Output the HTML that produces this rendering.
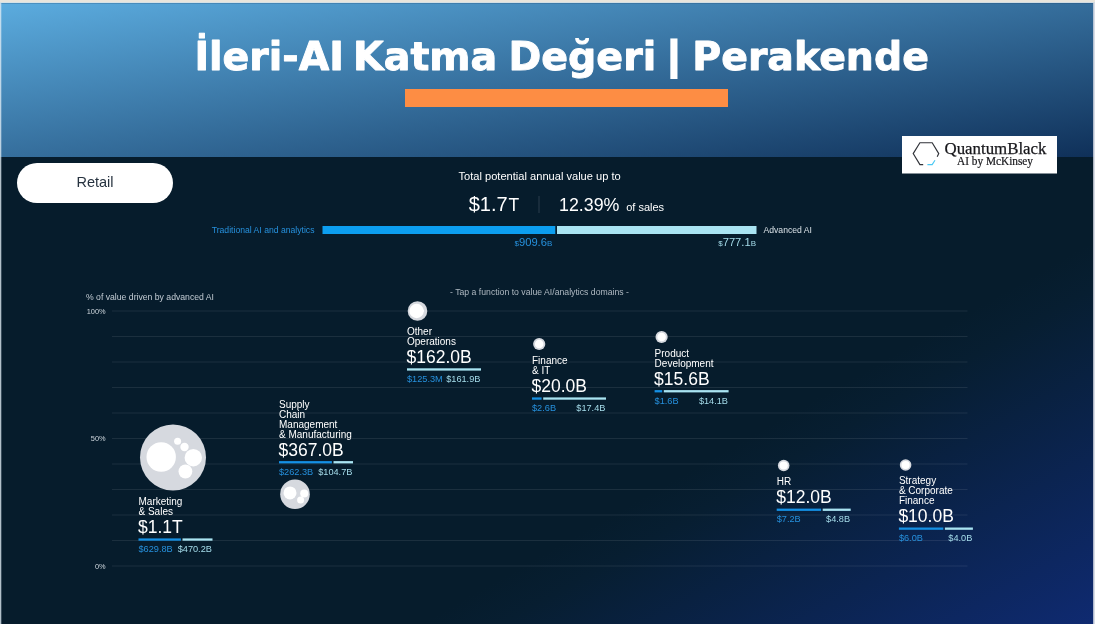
<!DOCTYPE html>
<html lang="tr"><head><meta charset="utf-8"><title>İleri-AI Katma Değeri | Perakende</title>
<style>
html,body{margin:0;padding:0;background:#061c2c;}
body{width:1095px;height:624px;overflow:hidden;position:relative;font-family:"Liberation Sans", Arial, sans-serif;}
svg{position:absolute;left:0;top:0;display:block}
text{font-family:"Liberation Sans", Arial, sans-serif;white-space:pre}
.ttl{font-family:'DejaVu Sans', 'Liberation Sans', sans-serif;font-weight:bold;font-size:38.7px;fill:#fff;stroke:#fff;stroke-width:0.9px;stroke-linejoin:round}
.lbl{font-size:10px;fill:#fff}
.val{font-size:17.5px;fill:#fff}
.sv{font-size:9.2px}
.ax{font-size:7.4px;fill:#cdd5dc}
</style></head><body>
<svg width="1095" height="624" viewBox="0 0 1095 624">
<defs>
<linearGradient id="hdr" x1="0" y1="0" x2="1" y2="1"><stop offset="0" stop-color="#5cadE0"/><stop offset="1" stop-color="#0f3059"/></linearGradient>
<linearGradient id="glow" gradientUnits="userSpaceOnUse" x1="930" y1="334" x2="1095" y2="624"><stop offset="0" stop-color="#061c2c"/><stop offset="0.12" stop-color="#071e31"/><stop offset="1" stop-color="#0f2a71"/></linearGradient>
</defs>
<rect x="0" y="0" width="1095" height="624" fill="#061c2c"/>
<rect x="0" y="157" width="1095" height="467" fill="url(#glow)"/>
<rect x="0" y="0" width="1095" height="157" fill="url(#hdr)"/>
<rect x="0" y="2.8" width="1095" height="0.900" fill="#1d456e" opacity="0.35"/>
<rect x="0" y="0" width="1095" height="2.900" fill="#e2e8ea"/>
<rect x="0" y="0" width="1095" height="2.100" fill="#e9e5dc"/>
<rect x="0" y="3" width="1.3" height="621" fill="#ddeaf3" opacity="0.8"/>
<rect x="1093.200" y="3" width="1.8" height="621" fill="#d9dde6"/>
<text x="194.4" y="70.3" class="ttl" textLength="149.5" lengthAdjust="spacingAndGlyphs">İleri-AI</text>
<text x="353.1" y="70.3" class="ttl" textLength="144.1" lengthAdjust="spacingAndGlyphs">Katma</text>
<text x="508.4" y="70.3" class="ttl" textLength="147.8" lengthAdjust="spacingAndGlyphs">Değeri</text>
<text x="692.3" y="70.3" class="ttl" textLength="236.6" lengthAdjust="spacingAndGlyphs">Perakende</text>
<text x="674" y="69.3" class="ttl" text-anchor="middle" style="font-size:36.500px;stroke-width:3px;stroke-linejoin:miter">|</text>
<rect x="405" y="89" width="323" height="18" fill="#fd8d44"/>
<rect x="902" y="136" width="155" height="37.5" fill="#fff"/>
<path d="M923.200,164.600 L919.900,164.600 L913.200,153.600 L919.900,142.750 L932.200,142.750 L938.750,153.600 L937.200,156.8" fill="none" stroke="#303238" stroke-width="1.150" stroke-linejoin="miter"/>
<path d="M927.400,164.600 L932.200,164.600 L935,160.3" fill="none" stroke="#4cc9f3" stroke-width="1.150"/>
<text x="944.5" y="153.8" style="font-family:'Liberation Serif', serif;font-size:16.500px;fill:#17171b;stroke:#17171b;stroke-width:0.250px" textLength="102" lengthAdjust="spacingAndGlyphs">QuantumBlack</text>
<text x="957" y="165.3" style="font-family:'Liberation Serif', serif;font-size:11.500px;fill:#17171b;stroke:#17171b;stroke-width:0.200px" textLength="76" lengthAdjust="spacingAndGlyphs">AI by McKinsey</text>
<rect x="17" y="163" width="156" height="40" rx="20" ry="20" fill="#fff"/>
<text x="95" y="187" text-anchor="middle" style="font-size:14.500px;fill:#26323f">Retail</text>
<text x="458.5" y="179.700" style="font-size:11.100px;fill:#fff">Total potential annual value up to</text>
<text x="468.700" y="211" style="font-size:19.500px;fill:#fff" textLength="39" lengthAdjust="spacingAndGlyphs">$1.7</text>
<text x="508.600" y="211" style="font-size:17.500px;fill:#fff">T</text>
<rect x="538.5" y="196" width="1" height="17" fill="#2a3c4c"/>
<text x="559" y="211" style="font-size:18.500px;fill:#fff" textLength="60.400" lengthAdjust="spacingAndGlyphs">12.39%</text>
<text x="626.200" y="211" style="font-size:11px;fill:#fff">of sales</text>
<text x="314.5" y="233" text-anchor="end" style="font-size:8.650px;fill:#2690dc">Traditional AI and analytics</text>
<rect x="322.5" y="226" width="232.8" height="8" fill="#0c9ef0"/>
<rect x="557" y="226" width="199.5" height="8" fill="#a9e4f2"/>
<text x="763.5" y="233" style="font-size:8.650px;fill:#d8e0e6">Advanced AI</text>
<text x="552.3" y="245.8" text-anchor="end" style="font-size:11.200px;fill:#2690dc"><tspan style="font-size:8px">$</tspan>909.6<tspan style="font-size:8px">B</tspan></text>
<text x="756" y="245.8" text-anchor="end" style="font-size:11.200px;fill:#a5dcea"><tspan style="font-size:8px">$</tspan>777.1<tspan style="font-size:8px">B</tspan></text>
<text x="86" y="299.5" style="font-size:8.650px;fill:#c3ccd4" textLength="128" lengthAdjust="spacingAndGlyphs">% of value driven by advanced AI</text>
<text x="450" y="294.5" style="font-size:8.650px;fill:#aeb8c1" textLength="179" lengthAdjust="spacingAndGlyphs">- Tap a function to value AI/analytics domains -</text>
<rect x="112" y="310.50" width="855.5" height="1" fill="#fff" opacity="0.085"/>
<rect x="112" y="336.00" width="855.5" height="1" fill="#fff" opacity="0.085"/>
<rect x="112" y="361.50" width="855.5" height="1" fill="#fff" opacity="0.085"/>
<rect x="112" y="387.00" width="855.5" height="1" fill="#fff" opacity="0.085"/>
<rect x="112" y="412.50" width="855.5" height="1" fill="#fff" opacity="0.085"/>
<rect x="112" y="438.00" width="855.5" height="1" fill="#fff" opacity="0.085"/>
<rect x="112" y="463.50" width="855.5" height="1" fill="#fff" opacity="0.085"/>
<rect x="112" y="489.00" width="855.5" height="1" fill="#fff" opacity="0.085"/>
<rect x="112" y="514.50" width="855.5" height="1" fill="#fff" opacity="0.085"/>
<rect x="112" y="540.00" width="855.5" height="1" fill="#fff" opacity="0.085"/>
<rect x="112" y="565.50" width="855.5" height="1" fill="#fff" opacity="0.085"/>
<text x="105.600" y="313.700" text-anchor="end" class="ax">100%</text>
<text x="105.600" y="441.200" text-anchor="end" class="ax">50%</text>
<text x="105.600" y="568.700" text-anchor="end" class="ax">0%</text>
<circle cx="173.0" cy="457.4" r="33.0" fill="#d6d9df"/>
<circle cx="161.2" cy="457.0" r="14.7" fill="#fff"/>
<circle cx="193.3" cy="457.7" r="8.7" fill="#fff"/>
<circle cx="185.4" cy="471.5" r="6.9" fill="#fff"/>
<circle cx="184.5" cy="447.0" r="4.2" fill="#fff"/>
<circle cx="177.6" cy="441.2" r="3.5" fill="#fff"/>
<text x="138.5" y="505.0" class="lbl">Marketing</text>
<text x="138.5" y="514.8" class="lbl">&amp; Sales</text>
<text x="138.0" y="533.1" class="val">$1.1T</text>
<rect x="138.5" y="538.4" width="42.4" height="2.3" fill="#1590e4"/>
<rect x="182.5" y="538.4" width="30.0" height="2.3" fill="#a9e4f2"/>
<text x="138.5" y="551.8" class="sv" fill="#2690dc">$629.8B</text>
<text x="211.9" y="551.8" class="sv" text-anchor="end" fill="#a5dcea">$470.2B</text>
<text x="279.0" y="408.1" class="lbl">Supply</text>
<text x="279.0" y="417.9" class="lbl">Chain</text>
<text x="279.0" y="427.7" class="lbl">Management</text>
<text x="279.0" y="437.5" class="lbl">&amp; Manufacturing</text>
<text x="278.5" y="455.8" class="val">$367.0B</text>
<rect x="279.0" y="461.1" width="52.9" height="2.3" fill="#1590e4"/>
<rect x="333.5" y="461.1" width="19.5" height="2.3" fill="#a9e4f2"/>
<text x="279.0" y="474.5" class="sv" fill="#2690dc">$262.3B</text>
<text x="352.4" y="474.5" class="sv" text-anchor="end" fill="#a5dcea">$104.7B</text>
<circle cx="295.0" cy="494.2" r="14.8" fill="#d6d9df"/>
<circle cx="290.0" cy="492.9" r="6.5" fill="#fff"/>
<circle cx="304.2" cy="493.5" r="4.0" fill="#fff"/>
<circle cx="300.6" cy="500.1" r="3.5" fill="#fff"/>
<circle cx="417.5" cy="311.0" r="9.8" fill="#d6d9df"/>
<circle cx="416.6" cy="311.0" r="7.2" fill="#fff"/>
<circle cx="422.8" cy="310.8" r="1.3" fill="#fff"/>
<text x="407.0" y="334.9" class="lbl">Other</text>
<text x="407.0" y="344.7" class="lbl">Operations</text>
<text x="406.5" y="363.0" class="val">$162.0B</text>
<rect x="407.0" y="368.3" width="74.0" height="2.3" fill="#a9e4f2"/>
<text x="407.0" y="381.7" class="sv" fill="#2690dc">$125.3M</text>
<text x="480.4" y="381.7" class="sv" text-anchor="end" fill="#a5dcea">$161.9B</text>
<circle cx="539.2" cy="344.0" r="6.1" fill="#d6d9df"/>
<circle cx="539.2" cy="344.0" r="4.3" fill="#fff"/>
<text x="532.0" y="364.0" class="lbl">Finance</text>
<text x="532.0" y="373.8" class="lbl">&amp; IT</text>
<text x="531.5" y="392.1" class="val">$20.0B</text>
<rect x="532.0" y="397.4" width="9.6" height="2.3" fill="#1590e4"/>
<rect x="543.2" y="397.4" width="62.8" height="2.3" fill="#a9e4f2"/>
<text x="532.0" y="410.8" class="sv" fill="#2690dc">$2.6B</text>
<text x="605.4" y="410.8" class="sv" text-anchor="end" fill="#a5dcea">$17.4B</text>
<circle cx="661.6" cy="337.0" r="6.1" fill="#d6d9df"/>
<circle cx="661.6" cy="337.0" r="4.3" fill="#fff"/>
<text x="654.6" y="356.7" class="lbl">Product</text>
<text x="654.6" y="366.5" class="lbl">Development</text>
<text x="654.1" y="384.8" class="val">$15.6B</text>
<rect x="654.6" y="390.1" width="7.6" height="2.3" fill="#1590e4"/>
<rect x="663.8" y="390.1" width="64.8" height="2.3" fill="#a9e4f2"/>
<text x="654.6" y="403.5" class="sv" fill="#2690dc">$1.6B</text>
<text x="728.0" y="403.5" class="sv" text-anchor="end" fill="#a5dcea">$14.1B</text>
<circle cx="783.7" cy="465.5" r="5.8" fill="#d6d9df"/>
<circle cx="783.7" cy="465.5" r="4.1" fill="#fff"/>
<text x="776.7" y="485.0" class="lbl">HR</text>
<text x="776.2" y="503.3" class="val">$12.0B</text>
<rect x="776.7" y="508.6" width="44.4" height="2.3" fill="#1590e4"/>
<rect x="822.7" y="508.6" width="28.0" height="2.3" fill="#a9e4f2"/>
<text x="776.7" y="522.0" class="sv" fill="#2690dc">$7.2B</text>
<text x="850.1" y="522.0" class="sv" text-anchor="end" fill="#a5dcea">$4.8B</text>
<circle cx="905.6" cy="465.0" r="5.8" fill="#d6d9df"/>
<circle cx="905.6" cy="465.0" r="4.1" fill="#fff"/>
<text x="898.9" y="484.3" class="lbl">Strategy</text>
<text x="898.9" y="494.1" class="lbl">&amp; Corporate</text>
<text x="898.9" y="503.9" class="lbl">Finance</text>
<text x="898.4" y="522.2" class="val">$10.0B</text>
<rect x="898.9" y="527.5" width="44.4" height="2.3" fill="#1590e4"/>
<rect x="944.9" y="527.5" width="28.0" height="2.3" fill="#a9e4f2"/>
<text x="898.9" y="540.9" class="sv" fill="#2690dc">$6.0B</text>
<text x="972.3" y="540.9" class="sv" text-anchor="end" fill="#a5dcea">$4.0B</text>
</svg>
</body></html>
